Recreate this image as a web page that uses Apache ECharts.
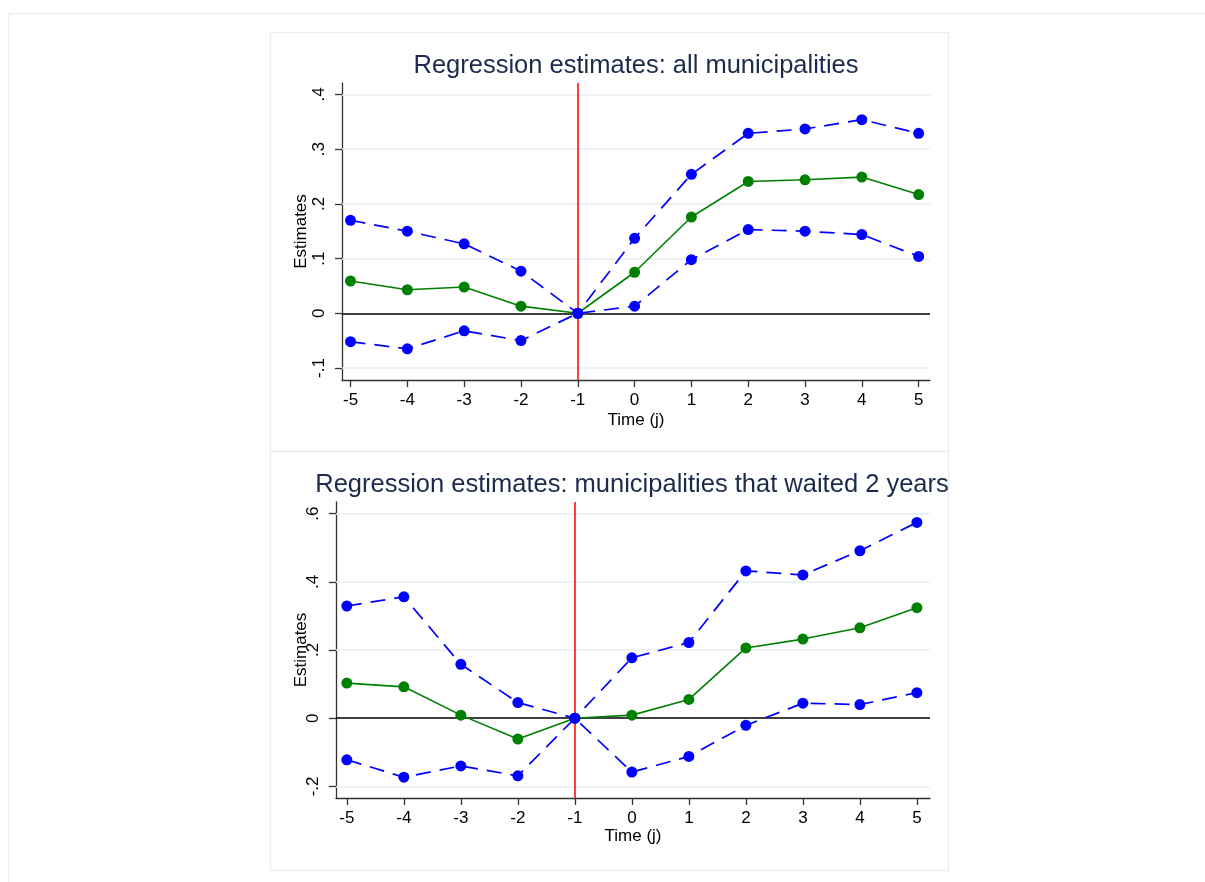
<!DOCTYPE html>
<html>
<head>
<meta charset="utf-8">
<script src="https://cdn.jsdelivr.net/npm/echarts@6/dist/echarts.min.js"></script>
<style>
html,body{margin:0;padding:0;background:#fff;}
#chart{width:1205px;height:882px;}
</style>
</head>
<body>
<div id="chart"></div>
<script>
// ---- data ----
const timeValues = [-5, -4, -3, -2, -1, 0, 1, 2, 3, 4, 5];
const allEst   = [0.059, 0.043, 0.048, 0.013, 0, 0.075, 0.176, 0.241, 0.244, 0.249, 0.217];
const allUpper = [0.170, 0.150, 0.127, 0.077, 0, 0.137, 0.254, 0.329, 0.337, 0.354, 0.329];
const allLower = [-0.052, -0.065, -0.032, -0.050, 0, 0.013, 0.098, 0.153, 0.150, 0.144, 0.104];
const waitEst   = [0.103, 0.092, 0.009, -0.061, 0, 0.009, 0.055, 0.206, 0.232, 0.265, 0.324];
const waitUpper = [0.329, 0.356, 0.158, 0.046, 0, 0.177, 0.222, 0.432, 0.420, 0.491, 0.574];
const waitLower = [-0.122, -0.173, -0.140, -0.169, 0, -0.158, -0.112, -0.021, 0.044, 0.040, 0.075];
const xTicks = [-5, -4, -3, -2, -1, 0, 1, 2, 3, 4, 5];
const yTicksTop = [-0.1, 0, 0.1, 0.2, 0.3, 0.4];
const yTicksBottom = [-0.2, 0, 0.2, 0.4, 0.6];
const titleTop = 'Regression estimates: all municipalities';
const titleBottom = 'Regression estimates: municipalities that waited 2 years';
const xName = 'Time (j)';
const yName = 'Estimates';
const eventTime = -1;

const FONT = '"Liberation Sans", Arial, sans-serif';
const pairs = arr => arr.map((v, i) => [timeValues[i], v]);
const fmtY = v => {
  const r = Math.round(v * 10) / 10;
  if (r === 0) return '0';
  return (r < 0 ? '-' : '') + String(Math.abs(r)).replace(/^0/, '');
};

function xAxisCfg(idx, min, max, gap) {
  return {
    type: 'value', gridIndex: idx, min: min, max: max,
    name: xName, nameLocation: 'middle', nameGap: gap, nameMoveOverlap: false,
    nameTextStyle: {fontFamily: FONT, fontSize: 17, color: '#000'},
    axisLine: {show: true, onZero: false, lineStyle: {color: '#333', width: 1.3}},
    axisTick: {show: true, length: 7, customValues: xTicks, lineStyle: {color: '#333', width: 1.3}},
    axisLabel: {customValues: xTicks, fontFamily: FONT, fontSize: 17, color: '#000', margin: 12,
      formatter: v => String(v)},
    splitLine: {show: false}
  };
}
function yAxisCfg(idx, min, max, ticks, gap) {
  return {
    type: 'value', gridIndex: idx, min: min, max: max,
    name: yName, nameLocation: 'middle', nameGap: gap, nameMoveOverlap: false,
    nameTextStyle: {fontFamily: FONT, fontSize: 17, color: '#000'},
    axisLine: {show: true, onZero: false, lineStyle: {color: '#333', width: 1.3}},
    axisTick: {show: true, length: 7, customValues: ticks, lineStyle: {color: '#333', width: 1.3}},
    axisLabel: {customValues: ticks, rotate: 90, fontFamily: FONT, fontSize: 17, color: '#000', margin: 14,
      formatter: fmtY},
    splitLine: {show: false}
  };
}
function refSeries(idx, ticks) {
  return [{
    type: 'line', xAxisIndex: idx, yAxisIndex: idx, data: [], z: 1, silent: true,
    markLine: {silent: true, z: 1, symbol: 'none', label: {show: false}, animation: false,
      lineStyle: {color: '#e7eff1', width: 1.5, type: 'solid'},
      data: ticks.filter(t => t !== 0).map(t => ({yAxis: t}))}
  }, {
    type: 'line', xAxisIndex: idx, yAxisIndex: idx, data: [], z: 2, silent: true,
    markLine: {silent: true, z: 2, symbol: 'none', label: {show: false}, animation: false,
      data: [
        {yAxis: 0, lineStyle: {color: '#000', width: 1.5, type: 'solid'}},
        {xAxis: eventTime, lineStyle: {color: '#ff0000', width: 1.5, type: 'solid'}}
      ]}
  }];
}
function dataSeries(idx, est, up, lo) {
  const common = {type: 'line', xAxisIndex: idx, yAxisIndex: idx, symbol: 'circle', symbolSize: 11,
    showSymbol: true, animation: false, silent: true};
  return [
    Object.assign({}, common, {data: pairs(est), z: 3,
      itemStyle: {color: '#008000'}, lineStyle: {color: '#008000', width: 1.6}}),
    Object.assign({}, common, {data: pairs(up), z: 4,
      itemStyle: {color: '#0000ff'}, lineStyle: {color: '#0000ff', width: 1.7, type: [15, 9]}}),
    Object.assign({}, common, {data: pairs(lo), z: 4,
      itemStyle: {color: '#0000ff'}, lineStyle: {color: '#0000ff', width: 1.7, type: [15, 9]}})
  ];
}

const chart = echarts.init(document.getElementById('chart'), null, {renderer: 'canvas'});
chart.setOption({
  backgroundColor: '#ffffff',
  animation: false,
  title: [
    {text: titleTop, left: 631, top: 48, textAlign: 'center',
      textStyle: {fontFamily: FONT, fontSize: 25.5, fontWeight: 'normal', color: '#1c2b4c'}},
    {text: titleBottom, left: 627, top: 467, textAlign: 'center',
      textStyle: {fontFamily: FONT, fontSize: 25.5, fontWeight: 'normal', color: '#1c2b4c'}}
  ],
  graphic: [
    {type: 'rect', shape: {x: 8.5, y: 13.5, width: 1300, height: 1000}, silent: true, z: -10,
      style: {fill: '#ffffff', stroke: '#e9eef0', lineWidth: 1.5}},
    {type: 'rect', shape: {x: 270.5, y: 32.5, width: 678, height: 419}, silent: true, z: -9,
      style: {fill: '#ffffff', stroke: '#e8eff3', lineWidth: 1.5}},
    {type: 'rect', shape: {x: 270.5, y: 451.5, width: 678, height: 419}, silent: true, z: -9,
      style: {fill: '#ffffff', stroke: '#e8eff3', lineWidth: 1.5}}
  ],
  grid: [
    {left: 342, right: 275, top: 83, height: 297, containLabel: false},
    {left: 336, right: 275, top: 502, height: 296, containLabel: false}
  ],
  xAxis: [xAxisCfg(0, -5.15, 5.2, 32), xAxisCfg(1, -5.19, 5.23, 30)],
  yAxis: [yAxisCfg(0, -0.122, 0.421, yTicksTop, 32), yAxisCfg(1, -0.234, 0.634, yTicksBottom, 26)],
  series: [].concat(
    refSeries(0, yTicksTop), dataSeries(0, allEst, allUpper, allLower),
    refSeries(1, yTicksBottom), dataSeries(1, waitEst, waitUpper, waitLower)
  )
});
</script>
</body>
</html>
